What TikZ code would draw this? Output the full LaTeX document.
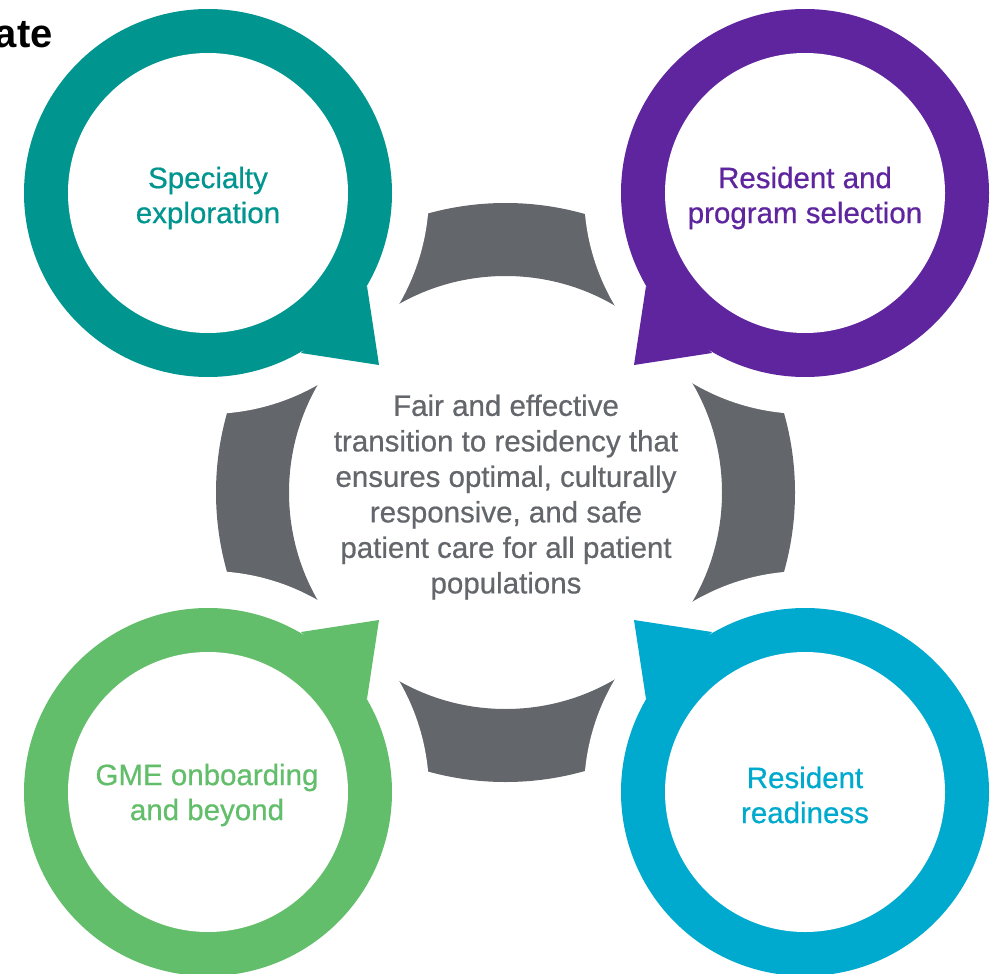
\documentclass[tikz,border=0pt]{standalone}
\usepackage{fontspec}
\setmainfont{Liberation Sans}
\newfontfamily\medfont[FakeBold=0.6]{Liberation Sans}
\definecolor{stageteal}{RGB}{0,150,143}
\definecolor{stagepurple}{RGB}{95,37,159}
\definecolor{stagegreen}{RGB}{98,190,106}
\definecolor{stagecyan}{RGB}{0,170,206}
\definecolor{cyclegray}{RGB}{99,102,106}
\tikzset{
  stagelabel/.style={align=center, font=\medfont\fontsize{29.5}{35}\selectfont, inner sep=0pt},
  hubtext/.style={align=center, font=\medfont\fontsize{29.5}{35.5}\selectfont, text=cyclegray, inner sep=0pt},
}
% ring-shaped speech bubble: centre, colour, two base points of the tail, tail tip
\newcommand\stagebubble[5]{%
  \fill[#2] #1 circle[radius=184];
  \fill[#2] #3 -- #5 -- #4 -- cycle;
  \fill[white] #1 circle[radius=140];
}
\begin{document}
\begin{tikzpicture}[x=1pt,y=-1pt]
\useasboundingbox (0,0) rectangle (999,974);
\coordinate (hub) at (505.5,492.5);

% grey cycle ring, split into four arcs by gaps around each bubble
\fill[cyclegray, even odd rule] (hub) circle[radius=289.5] (hub) circle[radius=216.5];
\foreach \c in {(208,193),(805,193),(208,792),(805,792)}
  \fill[white] \c circle[radius=221];

% the four stages
\stagebubble{(208,193)}{stageteal}{(367,286)}{(301,353)}{(379,365)}
\stagebubble{(805,193)}{stagepurple}{(646,286)}{(712,353)}{(634,365)}
\stagebubble{(208,792)}{stagegreen}{(367,699)}{(301,632)}{(379,620)}
\stagebubble{(805,792)}{stagecyan}{(646,699)}{(712,632)}{(634,620)}

\node[stagelabel, text=stageteal]   (spec)  at (208,198) {Specialty\\exploration};
\node[stagelabel, text=stagepurple] (match) at (805,198) {Resident and\\program selection};
\node[stagelabel, text=stagegreen]  (gme)   at (207,795) {GME onboarding\\and beyond};
\node[stagelabel, text=stagecyan]   (ready) at (805,795) {Resident\\readiness};

\node[hubtext] (goal) at (506,497) {Fair and effective\\transition to residency that\\ensures optimal, culturally\\responsive, and safe\\patient care for all patient\\populations};

\node[anchor=base east, inner sep=0pt, font=\bfseries\fontsize{40}{42}\selectfont] (title) at (53,48) {ate};
\end{tikzpicture}
\end{document}
